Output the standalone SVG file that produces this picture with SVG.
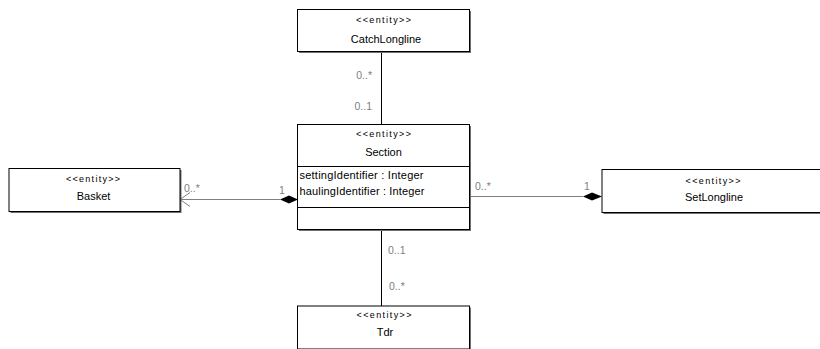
<svg xmlns="http://www.w3.org/2000/svg" width="820" height="349" viewBox="0 0 820 349">
<style>
.box{fill:#fff;stroke:#000;stroke-width:1}
.sh{fill:#707070}
.st{font-family:"Liberation Sans",Arial,sans-serif;font-size:9px;fill:#000;text-anchor:middle}
.nm{font-family:"Liberation Sans",Arial,sans-serif;font-size:11px;fill:#000;text-anchor:middle}
.at{font-family:"Liberation Sans",Arial,sans-serif;font-size:11px;fill:#000}
.lb{font-family:"Liberation Sans",Arial,sans-serif;font-size:10.5px;fill:#808080}
.ln{stroke:#000;stroke-width:1;fill:none}
.hl{stroke:#808080;stroke-width:1;fill:none}
</style>
<rect width="820" height="349" fill="#fff"/>
<g id="connectors">
<line class="ln" x1="381.5" y1="52" x2="381.5" y2="124"/>
<line class="ln" x1="381.5" y1="230" x2="381.5" y2="306"/>
<line class="hl" x1="180" y1="199.5" x2="280" y2="199.5"/>
<polygon points="280,199.5 289,195.5 298,199.5 289,203.5" fill="#000"/>
<polyline class="hl" points="190,192.5 180,199.5 190,206.5"/>
<line class="hl" x1="469" y1="196.5" x2="583" y2="196.5"/>
<polygon points="583,196.5 592,192.5 602,196.5 592,200.5" fill="#000"/>
<text class="lb" x="372" y="79" text-anchor="end">0..*</text>
<text class="lb" x="372" y="110" text-anchor="end">0..1</text>
<text class="lb" x="388" y="254">0..1</text>
<text class="lb" x="389" y="290">0..*</text>
<text class="lb" x="184" y="192">0..*</text>
<text class="lb" x="279" y="194">1</text>
<text class="lb" x="475" y="190">0..*</text>
<text class="lb" x="584" y="190">1</text>
</g>
<g id="CatchLongline">
<rect class="sh" x="299" y="11" width="172" height="42"/>
<rect class="box" x="297.5" y="9.5" width="172" height="42"/>
<text class="st" x="383.5" y="23" textLength="55" lengthAdjust="spacing">&lt;&lt;entity&gt;&gt;</text>
<text class="nm" x="386" y="42.5">CatchLongline</text>
</g>
<g id="Section">
<rect class="sh" x="299" y="126" width="172" height="105"/>
<rect class="box" x="297.5" y="124.5" width="172" height="105"/>
<line class="ln" x1="297.5" y1="166.5" x2="469.5" y2="166.5"/>
<line class="ln" x1="297.5" y1="207.5" x2="469.5" y2="207.5"/>
<text class="st" x="383.5" y="137" textLength="55" lengthAdjust="spacing">&lt;&lt;entity&gt;&gt;</text>
<text class="nm" x="383.5" y="156">Section</text>
<text class="at" x="299.5" y="179" textLength="124" lengthAdjust="spacing">settingIdentifier : Integer</text>
<text class="at" x="299.5" y="195" textLength="125" lengthAdjust="spacing">haulingIdentifier : Integer</text>
</g>
<g id="Basket">
<rect class="sh" x="10.5" y="170" width="171" height="43"/>
<rect class="box" x="9" y="168.5" width="171" height="43"/>
<text class="st" x="93" y="181.5" textLength="54" lengthAdjust="spacing">&lt;&lt;entity&gt;&gt;</text>
<text class="nm" x="93.5" y="200">Basket</text>
</g>
<g id="SetLongline">
<rect class="sh" x="603.5" y="171" width="230" height="43"/>
<rect class="box" x="602" y="169.5" width="230" height="43"/>
<text class="st" x="713" y="184" textLength="55" lengthAdjust="spacing">&lt;&lt;entity&gt;&gt;</text>
<text class="nm" x="714" y="201">SetLongline</text>
</g>
<g id="Tdr">
<rect class="sh" x="299" y="307.5" width="172" height="43"/>
<rect class="box" x="297.5" y="306" width="172" height="43"/>
<text class="st" x="384" y="318" textLength="55" lengthAdjust="spacing">&lt;&lt;entity&gt;&gt;</text>
<text class="nm" x="385" y="336">Tdr</text>
</g>
</svg>
